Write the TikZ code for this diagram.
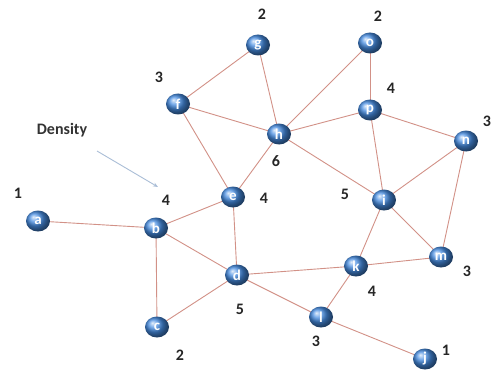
\documentclass[tikz,border=0pt]{standalone}
\usepackage{fontspec}
\setmainfont{Carlito}
\usetikzlibrary{shapes.geometric,arrows.meta}
\definecolor{edgecol}{RGB}{210,145,135}
\definecolor{ballblue}{RGB}{70,140,225}
\definecolor{arrowgray}{RGB}{170,190,215}
\tikzset{
  vert/.style={ellipse, minimum width=24pt, minimum height=21pt, inner sep=0pt,
    shading=ball, ball color=ballblue, text=white, font=\bfseries\fontsize{15}{15}\selectfont},
  link/.style={draw=edgecol, line width=0.9pt},
  deg/.style={font=\bfseries\fontsize{16}{16}\selectfont, text=black!85},
}
\begin{document}
\begin{tikzpicture}[x=1pt,y=-1pt]
\useasboundingbox (0,0) rectangle (492,377);
\fill[white] (0,0) rectangle (492,377);
% vertex positions
\coordinate (pa) at (38,221);
\coordinate (pb) at (156,228);
\coordinate (pc) at (157,327);
\coordinate (pd) at (237,275);
\coordinate (pe) at (233,197);
\coordinate (pf) at (178,104);
\coordinate (pg) at (258,45);
\coordinate (ph) at (279,134);
\coordinate (pi) at (384,200);
\coordinate (pj) at (425,359);
\coordinate (pk) at (356,266);
\coordinate (pl) at (321,317);
\coordinate (pm) at (441,257);
\coordinate (pn) at (466,141);
\coordinate (po) at (370,43);
\coordinate (pp) at (370,110);
% edges
\foreach \u/\v in {pa/pb,pb/pe,pb/pd,pb/pc,pc/pd,pd/pe,pe/pf,pe/ph,pf/pg,pf/ph,pg/ph,
  ph/po,ph/pp,ph/pi,po/pp,pp/pn,pp/pi,pn/pi,pn/pm,pi/pm,pi/pk,pk/pm,pd/pk,pd/pl,pk/pl,pl/pj}
  \draw[link] (\u) -- (\v);
% vertex balls
\foreach \n in {a,b,c,d,e,f,g,h,i,j,k,l,m,n,o,p}
  \node[vert] (\n) at (p\n) {\n};
% degree labels
\node[deg] (da) at (18,193) {1};
\node[deg] (db) at (166,200) {4};
\node[deg] (dc) at (180,355) {2};
\node[deg] (dd) at (240,309) {5};
\node[deg] (de) at (264,198) {4};
\node[deg] (df) at (159,77) {3};
\node[deg] (dg) at (262,14) {2};
\node[deg] (dh) at (276,161) {6};
\node[deg] (di) at (345,194) {5};
\node[deg] (dj) at (446,350) {1};
\node[deg] (dk) at (372,291) {4};
\node[deg] (dl) at (316,341) {3};
\node[deg] (dm) at (467,271) {3};
\node[deg] (dn) at (487,121) {3};
\node[deg] (do) at (378,16) {2};
\node[deg] (dp) at (391,88) {4};
% annotation
\node[font=\bfseries\fontsize{16}{16}\selectfont, text=black!80] (dens) at (62,130) {Density};
\coordinate (tipend) at (158,187);
\draw[arrowgray, line width=0.9pt, -{Stealth[length=5pt,width=4pt]}] (97,151) -- (tipend);
\end{tikzpicture}
\end{document}
